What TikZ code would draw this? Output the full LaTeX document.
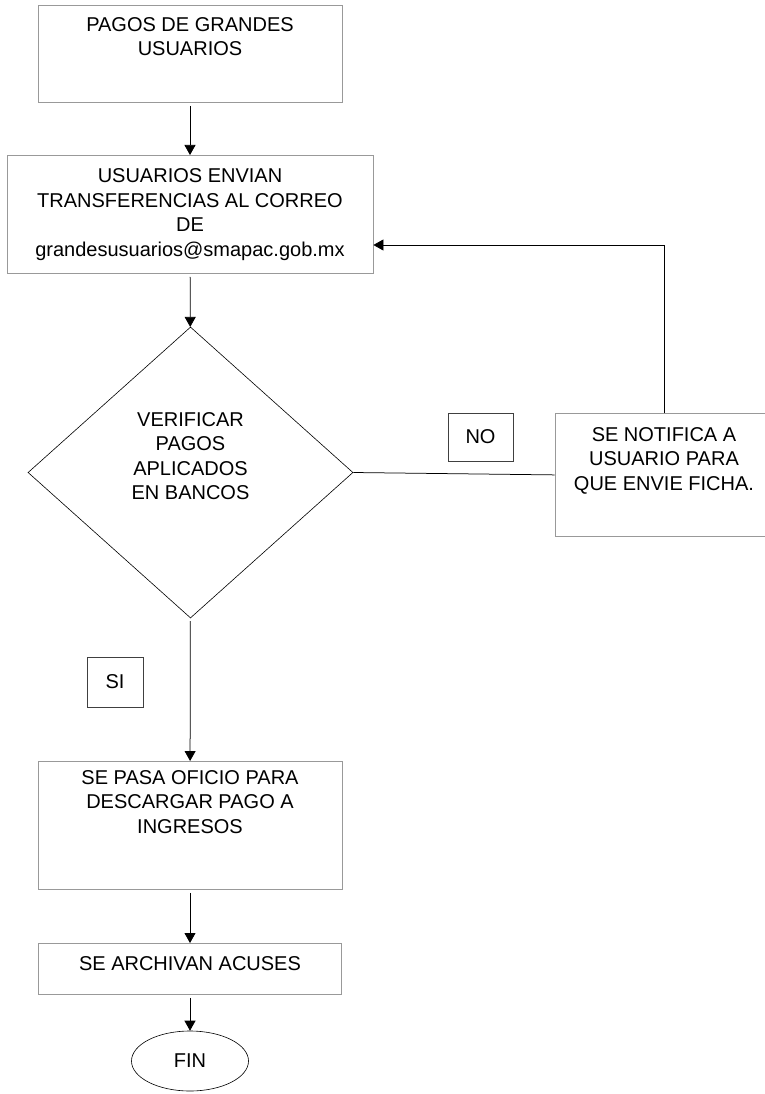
\documentclass[tikz,border=0pt]{standalone}
\usepackage{fontspec}
\setmainfont{Liberation Sans}
\usetikzlibrary{arrows.meta,shapes.geometric}

\begin{document}
\begin{tikzpicture}[
        x=1pt, y=-1pt,
        every node/.style={font=\fontsize{20pt}{24.5pt}\selectfont},
        box/.style={draw=black!40, line width=0.8pt, inner sep=0pt, anchor=north},
        tag/.style={draw=black!75, line width=0.8pt, inner sep=0pt},
        decision/.style={diamond, draw, line width=0.6pt, inner sep=0pt, align=center, minimum width=325pt, minimum height=291pt},
        finish/.style={ellipse, draw, line width=0.6pt, minimum width=117pt, minimum height=60pt},
        arrow/.style={-{Triangle[length=10pt,width=11pt]}, line width=0.75pt, shorten <=3pt},
        link/.style={line width=0.75pt}
    ]
        \useasboundingbox (0,0) rectangle (764,1094);

        \node[box] (pagos) at (190,5) {\parbox[c][97pt][t]{304pt}{\centering\vspace*{12pt}PAGOS DE GRANDES\\USUARIOS}};
        \node[box] (correo) at (190,155) {\parbox[c][118pt][c]{366pt}{\centering USUARIOS ENVIAN\\TRANSFERENCIAS AL CORREO\\DE\\grandesusuarios@smapac.gob.mx}};
        \node[decision] (verificar) at (190.5,472.5) {VERIFICAR\\PAGOS\\APLICADOS\\EN BANCOS\\[8pt]};
        \node[box] (notifica) at (664,413) {\parbox[c][123pt][t]{218pt}{\centering\vspace*{14pt}SE NOTIFICA A\\USUARIO PARA\\QUE ENVIE FICHA.}};
        \node[tag, minimum width=65pt, minimum height=48pt] (no) at (480.5,437) {NO};
        \node[tag, minimum width=56pt, minimum height=50pt] (si) at (115,682) {SI};
        \node[box] (oficio) at (190,761) {\parbox[c][128pt][t]{304pt}{\centering\vspace*{9pt}SE PASA OFICIO PARA\\DESCARGAR PAGO A\\INGRESOS}};
        \node[box] (archiva) at (190,943) {\parbox[c][51pt][t]{303pt}{\centering\vspace*{13pt}SE ARCHIVAN ACUSES}};
        \node[finish] (fin) at (190,1061) {FIN};
        \coordinate (retorno) at (664,245);

        \draw[arrow] (pagos) -- (correo);
        \draw[arrow] (correo) -- (verificar);
        \draw[link] (verificar.east) -- (notifica.west);
        \draw[arrow, shorten <=0pt] (notifica.north) |- (correo.east |- retorno);
        \draw[arrow] (verificar) -- (oficio);
        \draw[arrow] (oficio) -- (archiva);
        \draw[arrow] (archiva) -- (fin);
    \end{tikzpicture}
\end{document}
